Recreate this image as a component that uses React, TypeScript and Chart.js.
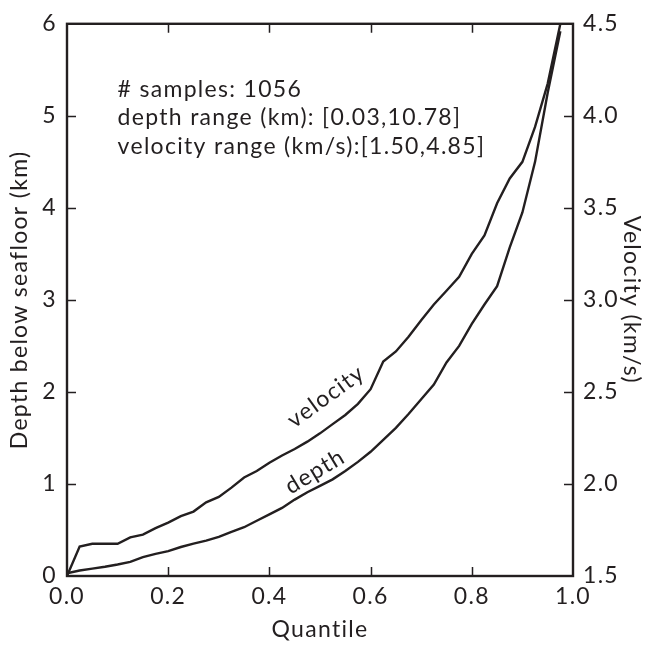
import React, { useEffect, useRef } from 'react';
import { Chart, registerables } from 'chart.js';

Chart.register(...registerables);

// ---- data ----
const quantiles = [
  0, 0.025, 0.05, 0.075, 0.1, 0.125, 0.15, 0.175, 0.2, 0.225,
  0.25, 0.275, 0.3, 0.325, 0.35, 0.375, 0.4, 0.425, 0.45, 0.475,
  0.5, 0.525, 0.55, 0.575, 0.6, 0.625, 0.65, 0.675, 0.7, 0.725,
  0.75, 0.775, 0.8, 0.825, 0.85, 0.875, 0.9, 0.925, 0.95, 0.975,
];

const depthKm = [
  0.03, 0.06, 0.08, 0.1, 0.125, 0.154, 0.205, 0.24, 0.27, 0.315,
  0.352, 0.385, 0.425, 0.48, 0.53, 0.6, 0.67, 0.74, 0.83, 0.91,
  0.98, 1.05, 1.14, 1.24, 1.35, 1.48, 1.61, 1.76, 1.92, 2.08,
  2.32, 2.5, 2.74, 2.95, 3.15, 3.57, 3.95, 4.5, 5.25, 5.92,
];

const velocityKmS = [
  1.5, 1.66, 1.675, 1.675, 1.675, 1.71, 1.725, 1.76, 1.79, 1.825,
  1.85, 1.9, 1.93, 1.98, 2.035, 2.07, 2.115, 2.155, 2.19, 2.23,
  2.275, 2.325, 2.375, 2.435, 2.515, 2.665, 2.72, 2.8, 2.89, 2.975,
  3.05, 3.125, 3.25, 3.35, 3.525, 3.66, 3.75, 3.94, 4.175, 4.5,
];

const infoLines = [
  '# samples: 1056',
  'depth range (km): [0.03,10.78]',
  'velocity range (km/s):[1.50,4.85]',
];

const xTitle = 'Quantile';
const yTitle = 'Depth below seafloor (km)';
const y2Title = 'Velocity (km/s)';

// annotation anchors (in data units of x / left y axis)
const infoAnchor = { q: 0.1, d: [5.29, 4.98, 4.67] };
const curveLabels = [
  { text: 'velocity', q: 0.512, d: 1.95, angle: -36 },
  { text: 'depth', q: 0.49, d: 1.134, angle: -31 },
];

const FONT = 'Lato';
const FS = 23;
const SPACING = '1.3px';
const INK = '#231f20';

const decorPlugin = {
  id: 'decor',
  beforeDraw(chart: any) {
    const ctx = chart.ctx;
    ctx.save();
    ctx.fillStyle = '#ffffff';
    ctx.fillRect(0, 0, chart.width, chart.height);
    ctx.restore();
    (ctx as any).letterSpacing = SPACING;
  },
  afterDraw(chart: any) {
    const { ctx, chartArea: a, scales } = chart;
    const xs = scales.x;
    const ys = scales.y;
    const y2 = scales.y2;
    ctx.save();
    ctx.strokeStyle = INK;
    ctx.lineWidth = 2.4;
    ctx.strokeRect(a.left, a.top, a.right - a.left, a.bottom - a.top);

    const tl = 9;
    ctx.lineWidth = 1.5;
    ctx.beginPath();
    xs.ticks.forEach((t: any) => {
      if (t.value <= xs.min || t.value >= xs.max) return;
      const px = Math.round(xs.getPixelForValue(t.value)) + 0.5;
      ctx.moveTo(px, a.bottom);
      ctx.lineTo(px, a.bottom - tl);
      ctx.moveTo(px, a.top);
      ctx.lineTo(px, a.top + tl);
    });
    ys.ticks.forEach((t: any) => {
      if (t.value <= ys.min || t.value >= ys.max) return;
      const py = Math.round(ys.getPixelForValue(t.value)) + 0.5;
      ctx.moveTo(a.left, py);
      ctx.lineTo(a.left + tl, py);
    });
    y2.ticks.forEach((t: any) => {
      if (t.value <= y2.min || t.value >= y2.max) return;
      const py = Math.round(y2.getPixelForValue(t.value)) + 0.5;
      ctx.moveTo(a.right, py);
      ctx.lineTo(a.right - tl, py);
    });
    ctx.stroke();

    ctx.fillStyle = INK;
    ctx.font = `${FS}px ${FONT}`;
    (ctx as any).letterSpacing = SPACING;
    ctx.textAlign = 'left';
    ctx.textBaseline = 'middle';
    infoLines.forEach((line, i) => {
      ctx.fillText(line, xs.getPixelForValue(infoAnchor.q), ys.getPixelForValue(infoAnchor.d[i]));
    });

    ctx.textAlign = 'center';
    curveLabels.forEach((l) => {
      ctx.save();
      ctx.translate(xs.getPixelForValue(l.q), ys.getPixelForValue(l.d));
      ctx.rotate((l.angle * Math.PI) / 180);
      ctx.fillText(l.text, 0, 0);
      ctx.restore();
    });
    ctx.restore();
  },
};

export default function App() {
  const ref = useRef<HTMLCanvasElement | null>(null);

  useEffect(() => {
    document.body.style.margin = '0';
    const canvas = ref.current;
    if (!canvas) return;
    const tickFont = { family: FONT, size: FS };
    const chart = new Chart(canvas, {
      type: 'line',
      data: {
        datasets: [
          {
            label: 'depth',
            data: quantiles.map((q, i) => ({ x: q, y: depthKm[i] })),
            yAxisID: 'y',
            borderColor: INK,
            borderWidth: 2.4,
            pointRadius: 0,
            tension: 0,
            fill: false,
          },
          {
            label: 'velocity',
            data: quantiles.map((q, i) => ({ x: q, y: velocityKmS[i] })),
            yAxisID: 'y2',
            borderColor: INK,
            borderWidth: 2.4,
            pointRadius: 0,
            tension: 0,
            fill: false,
          },
        ],
      },
      options: {
        animation: false,
        responsive: false,
        devicePixelRatio: 1,
        layout: { padding: { top: 19, left: 0, right: 0, bottom: 0 } },
        plugins: {
          legend: { display: false },
          tooltip: { enabled: false },
          title: { display: false },
        },
        scales: {
          x: {
            type: 'linear',
            min: 0,
            max: 1,
            grid: { display: false, drawTicks: false },
            border: { display: false },
            ticks: {
              stepSize: 0.2,
              padding: 7,
              color: INK,
              font: tickFont,
              maxRotation: 0,
              callback: (v: any) => Number(v).toFixed(1),
            },
            title: { display: true, text: xTitle, color: INK, font: tickFont, padding: { top: 0, bottom: 3 } },
            afterFit: (s: any) => { s.height = 70; },
          },
          y: {
            type: 'linear',
            position: 'left',
            min: 0,
            max: 6,
            grid: { display: false, drawTicks: false },
            border: { display: false },
            ticks: { stepSize: 1, padding: 10, color: INK, font: tickFont },
            title: { display: true, text: yTitle, color: INK, font: tickFont, padding: { top: 6, bottom: 0 } },
            afterFit: (s: any) => { s.width = 67; },
          },
          y2: {
            type: 'linear',
            position: 'right',
            min: 1.5,
            max: 4.5,
            grid: { display: false, drawTicks: false },
            border: { display: false },
            ticks: {
              stepSize: 0.5,
              padding: 10,
              color: INK,
              font: tickFont,
              callback: (v: any) => Number(v).toFixed(1),
            },
            title: { display: true, text: y2Title, color: INK, font: tickFont, padding: { top: 1, bottom: 0 } },
            afterFit: (s: any) => { s.width = 73; },
          },
        },
      },
      plugins: [decorPlugin],
    });
    return () => chart.destroy();
  }, []);

  return (
    <div style={{ position: 'absolute', left: 0, top: 0, width: 646, height: 646 }}>
      <canvas ref={ref} width={646} height={646} style={{ display: 'block' }} />
    </div>
  );
}
